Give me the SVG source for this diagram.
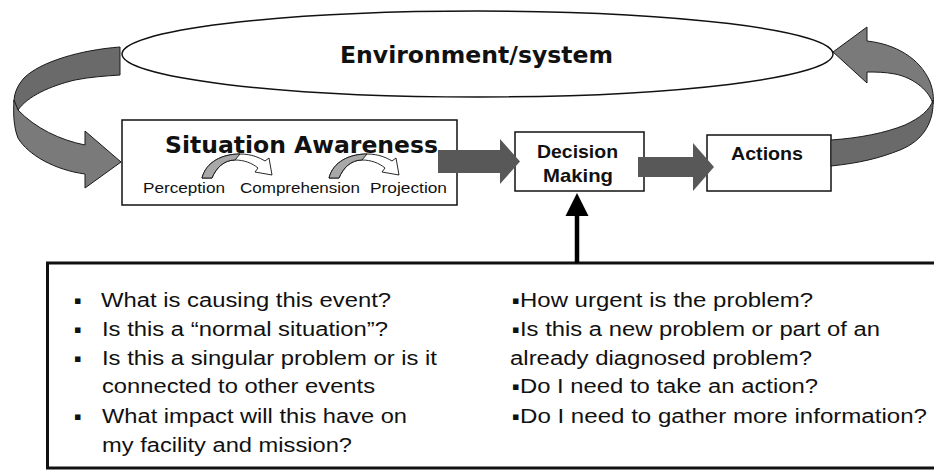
<svg xmlns="http://www.w3.org/2000/svg" xmlns:xlink="http://www.w3.org/1999/xlink" width="934" height="470" viewBox="0 0 934 470">
  <defs>
    <style>
      .box { fill: #ffffff; stroke: #111; stroke-width: 1.5; }
      .title { font-family: "DejaVu Sans", Verdana, sans-serif; font-weight: bold; fill: #111; }
      .lbl { font-family: "Liberation Sans", Arial, sans-serif; font-weight: bold; fill: #111; }
      .small { font-family: "Liberation Sans", Arial, sans-serif; font-size: 15.5px; fill: #111; }
      .q { font-family: "Liberation Sans", Arial, sans-serif; font-size: 19.5px; fill: #111; }
      .bul { font-family: "DejaVu Sans", sans-serif; font-size: 11px; fill: #111; }
      .ribbon-a { fill: #6a6a6a; stroke: #1a1a1a; stroke-width: 1; }
      .ribbon-b { fill: #7a7a7a; stroke: #1a1a1a; stroke-width: 1; }
      .fat { fill: #585858; }
    </style>
    <g id="mini">
      <path d="M0,0 C4,-16 20,-24 38,-24 C50,-24 58,-20 63,-17 L67,-20 L70,-3 L53,-6 L56,-10 C50,-15 42,-18 33,-18 C22,-18 14,-10 10,0 Z" fill="#fff" stroke="#111" stroke-width="0.9"/>
      <path d="M0,0 C4,-16 20,-24 38,-24 L33,-18 C22,-18 14,-10 10,0 Z" fill="#a8a8a8" stroke="#111" stroke-width="0.9"/>
    </g>
  </defs>

  <rect width="934" height="470" fill="#ffffff"/>

  <g id="environment">
    <ellipse cx="477.5" cy="54" rx="355.5" ry="43" fill="#fff" stroke="#111" stroke-width="1.5"/>
    <text class="title" x="340" y="63" font-size="23" textLength="273" lengthAdjust="spacingAndGlyphs">Environment/system</text>
  </g>

  <g id="situation-awareness">
    <rect class="box" x="122" y="120" width="335" height="85"/>
    <text class="title" x="165" y="153" font-size="23.5" textLength="273" lengthAdjust="spacingAndGlyphs">Situation Awareness</text>
    <use xlink:href="#mini" href="#mini" transform="translate(202,178)"/>
    <use xlink:href="#mini" href="#mini" transform="translate(329,178)"/>
    <text class="small" x="143" y="193" textLength="82" lengthAdjust="spacingAndGlyphs">Perception</text>
    <text class="small" x="240" y="193" textLength="120" lengthAdjust="spacingAndGlyphs">Comprehension</text>
    <text class="small" x="370" y="193" textLength="77" lengthAdjust="spacingAndGlyphs">Projection</text>
  </g>

  <g id="decision-making">
    <rect class="box" x="515" y="132" width="129" height="59"/>
    <text class="lbl" x="537" y="158" font-size="18.5" textLength="81" lengthAdjust="spacingAndGlyphs">Decision</text>
    <text class="lbl" x="543" y="182" font-size="18.5" textLength="70" lengthAdjust="spacingAndGlyphs">Making</text>
  </g>

  <g id="actions">
    <rect class="box" x="707" y="135" width="124" height="56"/>
    <text class="lbl" x="731" y="160" font-size="18.5" textLength="72" lengthAdjust="spacingAndGlyphs">Actions</text>
  </g>

  <g id="questions">
    <rect x="47.5" y="263" width="900" height="205" fill="#fff" stroke="#111" stroke-width="3"/>
    <text class="bul" x="74" y="304">▪</text>
    <text class="q" x="101" y="307" textLength="290" lengthAdjust="spacingAndGlyphs">What is causing this event?</text>
    <text class="bul" x="74" y="333">▪</text>
    <text class="q" x="102" y="336" textLength="286" lengthAdjust="spacingAndGlyphs">Is this a “normal situation”?</text>
    <text class="bul" x="74" y="362">▪</text>
    <text class="q" x="102" y="365" textLength="335" lengthAdjust="spacingAndGlyphs">Is this a singular problem or is it</text>
    <text class="q" x="102" y="393" textLength="273" lengthAdjust="spacingAndGlyphs">connected to other events</text>
    <text class="bul" x="74" y="420">▪</text>
    <text class="q" x="102" y="423" textLength="305" lengthAdjust="spacingAndGlyphs">What impact will this have on</text>
    <text class="q" x="102" y="452" textLength="250" lengthAdjust="spacingAndGlyphs">my facility and mission?</text>

    <text class="bul" x="512" y="304">▪</text>
    <text class="q" x="520" y="307" textLength="293" lengthAdjust="spacingAndGlyphs">How urgent is the problem?</text>
    <text class="bul" x="512" y="333">▪</text>
    <text class="q" x="520" y="336" textLength="360" lengthAdjust="spacingAndGlyphs">Is this a new problem or part of an</text>
    <text class="q" x="510" y="365" textLength="302" lengthAdjust="spacingAndGlyphs">already diagnosed problem?</text>
    <text class="bul" x="512" y="390">▪</text>
    <text class="q" x="520" y="393" textLength="298" lengthAdjust="spacingAndGlyphs">Do I need to take an action?</text>
    <text class="bul" x="512" y="420">▪</text>
    <text class="q" x="520" y="423" textLength="407" lengthAdjust="spacingAndGlyphs">Do I need to gather more information?</text>
  </g>

  <g id="connectors">
    <!-- environment to situation awareness (left loop) -->
    <path class="ribbon-a" d="M120,47 C80,50 40,62 24,78 C17,86 14,94 14,102 L18,110 C28,96 50,86 75,80 C90,77 105,76 120,75 Z"/>
    <path class="ribbon-b" d="M14,100 C13,115 14,128 18,138 C28,155 55,170 85,174 L85,188 L121,162 L85,131 L85,145 C60,140 35,128 18,110 Z"/>
    <!-- actions to environment (right loop) -->
    <path class="ribbon-b" d="M833,52 L867,27 L867,41 C895,44 920,58 930,82 C933,90 934,98 933,104 C930,92 915,78 895,74 C885,72 875,72 867,72 L867,83 Z"/>
    <path class="ribbon-a" d="M933,100 C934,120 925,140 900,150 C880,158 860,163 831,166 L831,140 C860,138 885,133 905,125 C920,118 930,110 933,100 Z"/>
    <!-- SA to Decision -->
    <path class="fat" d="M438,150 L500,150 L500,139 L520,161.5 L500,184 L500,173 L438,173 Z"/>
    <!-- Decision to Actions -->
    <path class="fat" d="M638,157 L693,157 L693,143 L714,167 L693,191 L693,177 L638,177 Z"/>
    <!-- Questions to Decision -->
    <line x1="577" y1="263" x2="577" y2="212" stroke="#000" stroke-width="4.5"/>
    <polygon points="565.5,216 588.5,216 577,193" fill="#000"/>
  </g>
</svg>
